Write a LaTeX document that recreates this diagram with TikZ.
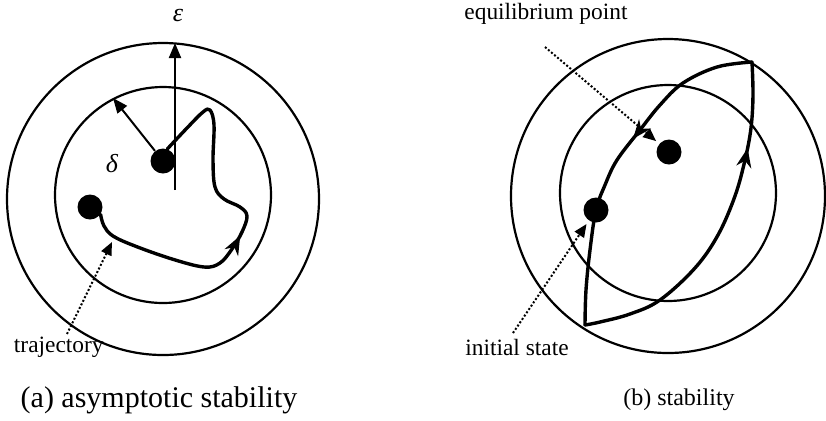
\documentclass[tikz,border=0pt]{standalone}
\usepackage{fontspec}
\setmainfont{Liberation Serif}
\usetikzlibrary{arrows.meta, decorations.markings}
\definecolor{ink}{HTML}{000000}
\tikzset{
    ring/.style={
        draw=ink, line width=1.1pt
    },
    state/.style={
        circle, fill=ink, inner sep=0pt, minimum size=12.5pt
    },
    orbit/.style={
        draw=ink, line width=1.7pt, line join=round, line cap=round
    },
    flow at/.style={
        postaction={decorate, decoration={markings,
            mark=at position #1 with {\arrow{Stealth[length=9.5pt,width=7.5pt]}}}}
    },
    radius arrow/.style={
        -{Triangle[length=7.5pt,width=6pt]}, line width=1pt, color=ink
    },
    pointer/.style={
        -{Triangle[length=6.5pt,width=5.5pt]}, line width=1pt, color=ink,
        dash pattern=on 1pt off 1pt
    },
    lbl/.style={
        font=\fontsize{11.7}{14}\selectfont, inner sep=0pt, text=ink
    },
    caption/.style={
        font=\fontsize{12}{14}\selectfont, inner sep=0pt, text=ink
    }
}

\begin{document}
\begin{tikzpicture}[x=0.5pt, y=-0.5pt]
    \useasboundingbox (0,0) rectangle (826,420);

    % (a) asymptotic stability
    \draw[ring] (163,199) circle[radius=156];
    \draw[ring] (163,195) circle[radius=108];

    \node[state] (eqA) at (163,161) {};
    \node[state] (initA) at (90,207) {};
    \coordinate (epsfoot) at (175,190);
    \coordinate (epstip) at (175,43);
    \coordinate (deltatip) at (113,98);
    \coordinate (trajtip) at (112,242);
    \coordinate (trajtail) at (67,334);

    \node[lbl, font=\fontsize{13}{14}\selectfont\itshape] (eps) at (178,15) {ε};
    \node[lbl, font=\fontsize{13}{14}\selectfont\itshape] (delta) at (112,164) {δ};
    \node[lbl, anchor=east] (trajlabel) at (104,347) {trajectory};
    \node[caption, font=\fontsize{15}{17}\selectfont] (capA) at (159,400) {(a) asymptotic stability};

    \draw[radius arrow] (epsfoot) -- (epstip);
    \draw[radius arrow] (eqA) -- (deltatip);
    \draw[orbit, flow at=0.46] plot[smooth, tension=0.6] coordinates {
        (initA.-35) (104,226) (113,236) (135,246) (172,259) (204,267)
        (220,263) (232,249) (242,232) (247,216) (240,207) (224,199)
        (215,187) (213,160) (214,125) (210,110) (203,112) (187,128)
        (eqA.70)};
    \draw[pointer] (trajtail) -- (trajtip);

    % (b) stability
    \draw[ring] (668,196) circle[radius=157];
    \draw[ring] (668,193) circle[radius=108];

    \node[state] (eqB) at (669,152) {};
    \node[state] (initB) at (596,210) {};
    \coordinate (topcusp) at (752,62);
    \coordinate (botcusp) at (585,325);
    \coordinate (eqtail) at (545,47);
    \coordinate (inittail) at (513,333);

    \node[lbl] (eqlabel) at (546,14) {equilibrium point};
    \node[lbl] (initlabel) at (517,347) {initial state};
    \node[caption] (capB) at (679,400) {(b) stability};

    \draw[orbit, flow at=0.43] plot[smooth, tension=0.6] coordinates {
        (topcusp) (717,67) (683,83) (660,105) (640,130) (617,160)
        (605,185) (initB.center) (590,250) (586,290) (botcusp)};
    \draw[orbit, flow at=0.75] plot[smooth, tension=0.6] coordinates {
        (botcusp) (600,322) (630,314) (660,300) (695,268) (718,235)
        (735,196) (745,160) (751,128) (753,95) (topcusp)};
    \draw[pointer, shorten >=2pt] (eqtail) -- (eqB);
    \draw[pointer, shorten >=2pt] (inittail) -- (initB);

\end{tikzpicture}
\end{document}
